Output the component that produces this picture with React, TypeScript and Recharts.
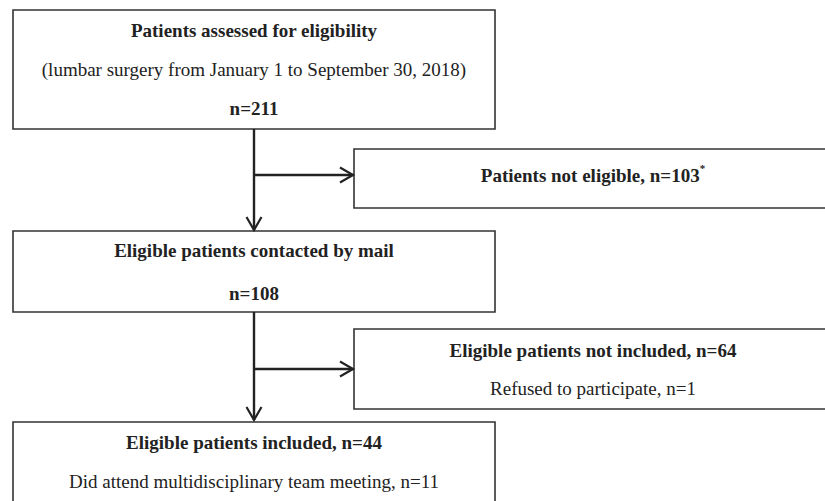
import React from "react";
import { ComposedChart, XAxis, YAxis, ReferenceArea, ReferenceLine } from "recharts";

// flow stages (main column) and exclusions (right column)
const stageTitles = ["Patients assessed for eligibility", "Eligible patients contacted by mail", "Eligible patients included"];
const stageCounts = [211, 108, 44];
const screeningPeriod = "(lumbar surgery from January 1 to September 30, 2018)";
const exclusionTitles = ["Patients not eligible", "Eligible patients not included"];
const exclusionCounts = [103, 64];
const detailLabels = ["Refused to participate", "Did attend multidisciplinary team meeting"];
const detailCounts = [1, 11];

const W = 825;
const H = 501;
const FONT = "'Liberation Serif', 'Times New Roman', serif";
const INK = "#222";

type Line = { text: string; bold?: boolean; dy: number; sup?: string };
type Box = { x1: number; x2: number; y1: number; y2: number; lines: Line[] };

const boxes: Box[] = [
  {
    x1: 13, x2: 495, y1: 10, y2: 129,
    lines: [
      { text: stageTitles[0], bold: true, dy: 20 },
      { text: screeningPeriod, dy: 59 },
      { text: `n=${stageCounts[0]}`, bold: true, dy: 98 },
    ],
  },
  {
    x1: 354, x2: 832, y1: 149, y2: 208,
    lines: [{ text: `${exclusionTitles[0]}, n=${exclusionCounts[0]}`, bold: true, dy: 26, sup: "*" }],
  },
  {
    x1: 13, x2: 495, y1: 231, y2: 312,
    lines: [
      { text: stageTitles[1], bold: true, dy: 19 },
      { text: `n=${stageCounts[1]}`, bold: true, dy: 62 },
    ],
  },
  {
    x1: 354, x2: 832, y1: 329, y2: 409,
    lines: [
      { text: `${exclusionTitles[1]}, n=${exclusionCounts[1]}`, bold: true, dy: 21 },
      { text: `${detailLabels[0]}, n=${detailCounts[0]}`, dy: 59 },
    ],
  },
  {
    x1: 13, x2: 495, y1: 422, y2: 510,
    lines: [
      { text: `${stageTitles[2]}, n=${stageCounts[2]}`, bold: true, dy: 20 },
      { text: `${detailLabels[1]}, n=${detailCounts[1]}`, dy: 59 },
    ],
  },
];

// connectors between boxes
const arrows = [
  { from: { x: 254, y: 129 }, to: { x: 254, y: 230 } },
  { from: { x: 254, y: 175 }, to: { x: 353, y: 175 } },
  { from: { x: 254, y: 312 }, to: { x: 254, y: 420 } },
  { from: { x: 254, y: 369 }, to: { x: 353, y: 369 } },
];

const BoxLabel = ({ viewBox, lines }: any) => {
  const { x, y, width } = viewBox;
  const cx = x + width / 2;
  return (
    <g>
      {lines.map((l: Line, i: number) => (
        <text
          key={i}
          x={cx}
          y={y + l.dy}
          textAnchor="middle"
          dominantBaseline="central"
          fontFamily={FONT}
          fontSize={19}
          fontWeight={l.bold ? 700 : 400}
          fill={INK}
        >
          {l.text}
          {l.sup && (
            <tspan fontSize={11} dy={-7}>
              {l.sup}
            </tspan>
          )}
        </text>
      ))}
    </g>
  );
};

const Arrow = (props: any) => {
  const { x1, y1, x2, y2 } = props;
  const dx = x2 - x1;
  const dy = y2 - y1;
  const len = Math.hypot(dx, dy) || 1;
  const ux = dx / len;
  const uy = dy / len;
  const hl = 13;
  const hw = 7.5;
  const bx = x2 - ux * hl;
  const by = y2 - uy * hl;
  const head = `${bx - uy * hw},${by + ux * hw} ${x2},${y2} ${bx + uy * hw},${by - ux * hw}`;
  return (
    <g>
      <line x1={x1} y1={y1} x2={x2} y2={y2} stroke={INK} strokeWidth={2.4} />
      <polyline points={head} fill="none" stroke={INK} strokeWidth={2.2} />
    </g>
  );
};

export default function App() {
  return (
    <div style={{ position: "absolute", left: 0, top: 0, background: "#fff" }}>
      <ComposedChart width={W} height={H} data={[]} margin={{ top: 0, right: 0, bottom: 0, left: 0 }}>
        <XAxis type="number" dataKey="x" domain={[0, W]} hide allowDataOverflow />
        <YAxis type="number" dataKey="y" domain={[0, H]} reversed hide allowDataOverflow />
        {boxes.map((b, i) => (
          <ReferenceArea
            key={`b${i}`}
            x1={b.x1}
            x2={b.x2}
            y1={b.y1}
            y2={b.y2}
            ifOverflow="visible"
            fill="#fff"
            fillOpacity={1}
            stroke="#333"
            strokeWidth={1.6}
            label={(p: any) => <BoxLabel viewBox={p.viewBox} lines={b.lines} />}
          />
        ))}
        {arrows.map((a, i) => (
          <ReferenceLine
            key={`a${i}`}
            segment={[a.from, a.to]}
            ifOverflow="visible"
            shape={(p: any) => <Arrow {...p} />}
          />
        ))}
      </ComposedChart>
    </div>
  );
}
